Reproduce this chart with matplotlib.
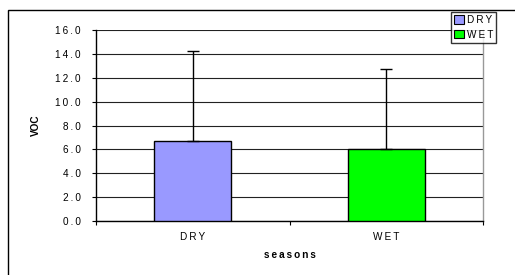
import matplotlib
matplotlib.use("Agg")
import matplotlib.pyplot as plt
from matplotlib.patches import Rectangle, Patch

categories = ["DRY", "WET"]
values = [6.7, 6.0]
err_upper = [7.5, 6.7]
colors = ["#9999FF", "#00FF00"]
yticks = [0, 2, 4, 6, 8, 10, 12, 14, 16]

plt.rcParams['font.family'] = ['Liberation Sans', 'DejaVu Sans']
sp = "\u2009"
def spaced(s):
    return sp.join(list(s))

W, H = 515, 275
fig = plt.figure(figsize=(W/100, H/100), dpi=100)
ax = fig.add_axes([96/W, 1-221/H, (483-96)/W, (221-30)/H])

x = list(range(len(categories)))
ax.bar(x, values, width=0.4, color=colors, edgecolor="black", linewidth=1.0, zorder=3)
ax.errorbar(x, values, yerr=[[0]*len(values), err_upper], fmt="none",
            ecolor="black", elinewidth=1.0, capsize=4, capthick=1.0, zorder=4)

ax.set_xlim(-0.5, 1.5)
ax.set_ylim(0, 16)
ax.set_yticks(yticks)
ax.set_yticklabels([spaced(f"{v:.1f}") for v in yticks], fontsize=7.2)
ax.set_xticks([-0.5, 0.5, 1.5])
ax.set_xticklabels([])
ax.set_xticks(x, minor=True)
ax.set_xticklabels([spaced(c) for c in categories], minor=True, fontsize=7.2)
ax.tick_params(axis="x", which="minor", length=0, pad=8)
ax.tick_params(axis="x", which="major", length=3, direction="out", width=0.8)
ax.tick_params(axis="y", length=3, direction="out", width=0.8, pad=8)

ax.yaxis.grid(True, color="#222222", linewidth=0.8, zorder=0)
ax.set_axisbelow(True)
for s in ["left", "bottom"]:
    ax.spines[s].set_color("black")
    ax.spines[s].set_linewidth(1.0)
ax.spines["top"].set_visible(False)
ax.spines["right"].set_color("#999999")
ax.spines["right"].set_linewidth(1.0)

ax.set_ylabel("VOC", fontsize=7.2, fontweight="bold", labelpad=10)
ax.set_xlabel(spaced("seasons"), fontsize=7.2, fontweight="bold", labelpad=6)

# outer frame
fig.patches.append(Rectangle((8/W, -0.1), 1.2, 1 - 10/H + 0.1, transform=fig.transFigure,
                             fill=False, edgecolor="black", linewidth=1.0))

handles = [Patch(facecolor=c, edgecolor="black", linewidth=0.8) for c in colors]
leg = fig.legend(handles, [spaced("DRY"), "W" + sp + "E" + sp + "T"], loc="upper left",
                 bbox_to_anchor=(451/W, 1-12/H), fontsize=7.2, frameon=True,
                 fancybox=False, edgecolor="black", handlelength=1.0, handleheight=0.9,
                 handletextpad=0.3, borderpad=0.3, labelspacing=0.45, borderaxespad=0)
leg.get_frame().set_linewidth(1.0)

fig.savefig("out.png", dpi=100)
